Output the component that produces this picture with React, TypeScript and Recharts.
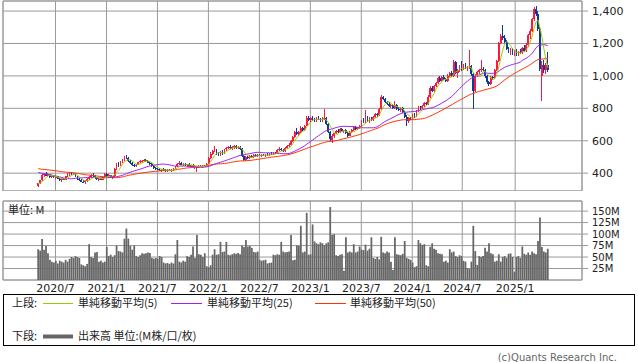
// 週足チャート — ローソク足 + 単純移動平均(5/25/50) + 出来高
import { ComposedChart, Bar, Line, XAxis, YAxis, CartesianGrid, ReferenceArea } from 'recharts';

// 週ごとの四本値（左端 2020/5 〜 右端 2025/4）
const opens = [
  320, 338, 355, 388, 396, 385, 392, 376, 382, 374,
  378, 365, 355, 364, 360, 380, 394, 400, 392, 398,
  378, 364, 356, 348, 345, 352, 362, 375, 390, 380,
  368, 362, 366, 360, 376, 394, 382, 386, 372, 380,
  426, 455, 448, 466, 485, 500, 492, 472, 460, 448,
  445, 452, 466, 474, 478, 482, 475, 464, 455, 444,
  432, 426, 422, 418, 424, 418, 414, 420, 416, 422,
  428, 442, 456, 460, 452, 458, 448, 454, 444, 448,
  440, 430, 438, 446, 440, 446, 442, 458, 494, 520,
  538, 542, 520, 512, 530, 520, 546, 556, 562, 554,
  560, 566, 556, 562, 550, 506, 482, 500, 496, 506,
  500, 512, 508, 514, 510, 512, 508, 516, 512, 520,
  516, 526, 520, 544, 552, 540, 536, 556, 570, 576,
  598, 625, 655, 642, 652, 676, 668, 694, 742, 728,
  738, 730, 722, 740, 732, 724, 738, 742, 705, 656,
  602, 632, 645, 662, 654, 670, 658, 664, 648, 632,
  655, 668, 684, 672, 680, 690, 724, 716, 740, 724,
  738, 728, 746, 764, 756, 794, 872, 856, 838, 826,
  812, 820, 800, 820, 798, 788, 802, 776, 748, 724,
  740, 732, 756, 750, 784, 806, 800, 812, 832, 826,
  872, 925, 908, 938, 955, 984, 968, 995, 978, 970,
  1002, 1018, 1000, 1085, 1018, 1030, 1060, 1040, 1068, 1048,
  1056, 1064, 1010, 905, 1002, 1024, 1034, 1044, 1036, 998,
  960, 952, 992, 984, 1034, 1092, 1200, 1248, 1236, 1212,
  1168, 1150, 1162, 1136, 1152, 1128, 1148, 1142, 1170, 1156,
  1192, 1250, 1280, 1350, 1410, 1384, 1290, 1000, 1070, 1036,
  1068,
];
const highs = [
  342, 360, 395, 402, 405, 398, 396, 388, 390, 385,
  383, 372, 368, 372, 385, 398, 405, 408, 404, 402,
  384, 370, 362, 356, 358, 368, 380, 395, 398, 386,
  375, 370, 372, 380, 398, 400, 392, 390, 385, 432,
  462, 468, 472, 490, 508, 512, 498, 480, 468, 455,
  458, 470, 480, 484, 488, 490, 482, 470, 460, 450,
  440, 434, 430, 428, 430, 426, 424, 428, 426, 432,
  446, 462, 478, 466, 462, 464, 458, 460, 452, 455,
  448, 446, 450, 452, 450, 452, 462, 500, 528, 545,
  570, 548, 530, 535, 540, 550, 562, 570, 572, 566,
  574, 572, 568, 570, 556, 512, 505, 508, 510, 512,
  516, 518, 520, 520, 518, 520, 520, 522, 526, 528,
  530, 532, 548, 560, 558, 552, 560, 576, 584, 604,
  632, 662, 680, 660, 690, 684, 700, 750, 752, 746,
  752, 742, 745, 750, 742, 745, 798, 746, 712, 662,
  640, 650, 668, 672, 676, 678, 668, 670, 654, 660,
  672, 690, 692, 686, 696, 730, 740, 790, 750, 744,
  746, 752, 770, 774, 800, 885, 878, 864, 846, 840,
  828, 826, 846, 826, 806, 810, 808, 782, 756, 746,
  748, 762, 770, 790, 812, 814, 818, 838, 840, 880,
  935, 940, 945, 962, 992, 1000, 1002, 1008, 985, 1010,
  1025, 1028, 1100, 1090, 1040, 1070, 1090, 1075, 1080, 1062,
  1160, 1068, 1016, 1010, 1030, 1040, 1096, 1052, 1042, 1004,
  968, 1000, 1000, 1040, 1100, 1210, 1260, 1312, 1250, 1222,
  1178, 1170, 1172, 1160, 1164, 1156, 1168, 1178, 1190, 1200,
  1260, 1290, 1360, 1428, 1430, 1400, 1300, 1090, 1100, 1080,
  1148,
];
const lows = [
  315, 332, 350, 378, 380, 375, 372, 368, 370, 366,
  362, 350, 348, 356, 355, 375, 385, 388, 386, 375,
  360, 350, 344, 338, 335, 346, 356, 370, 376, 364,
  358, 352, 356, 355, 372, 378, 370, 368, 366, 378,
  420, 440, 442, 460, 478, 488, 468, 455, 442, 438,
  440, 448, 460, 464, 470, 470, 460, 450, 440, 428,
  420, 418, 412, 410, 414, 408, 410, 412, 410, 416,
  424, 438, 448, 448, 446, 444, 440, 440, 436, 436,
  426, 408, 430, 436, 434, 438, 438, 455, 490, 510,
  530, 515, 505, 506, 515, 516, 538, 548, 548, 545,
  552, 550, 548, 545, 500, 476, 478, 490, 490, 494,
  496, 502, 500, 504, 502, 504, 502, 506, 508, 510,
  512, 516, 516, 536, 536, 530, 530, 550, 560, 570,
  592, 620, 636, 630, 646, 660, 662, 690, 720, 718,
  722, 715, 716, 726, 718, 718, 730, 700, 650, 596,
  588, 620, 640, 648, 650, 652, 646, 642, 626, 628,
  650, 662, 666, 664, 672, 686, 708, 712, 718, 712,
  720, 722, 740, 748, 750, 790, 850, 832, 820, 806,
  800, 798, 796, 790, 782, 780, 770, 740, 694, 710,
  726, 726, 740, 746, 778, 792, 794, 806, 818, 822,
  866, 900, 902, 930, 948, 960, 962, 972, 960, 964,
  994, 992, 995, 1010, 990, 1022, 1030, 1034, 1040, 1032,
  1040, 1000, 798, 900, 996, 1010, 1026, 1028, 990, 950,
  940, 946, 976, 980, 1030, 1086, 1195, 1220, 1200, 1160,
  1140, 1130, 1128, 1124, 1120, 1120, 1136, 1136, 1146, 1150,
  1180, 1226, 1270, 1340, 1370, 1280, 1030, 845, 1020, 1010,
  1024,
];
const closes = [
  338, 355, 388, 396, 385, 392, 376, 382, 374, 378,
  365, 355, 364, 360, 380, 394, 400, 392, 398, 378,
  364, 356, 348, 345, 352, 362, 375, 390, 380, 368,
  362, 366, 360, 376, 394, 382, 386, 372, 380, 426,
  455, 448, 466, 485, 500, 492, 472, 460, 448, 445,
  452, 466, 474, 478, 482, 475, 464, 455, 444, 432,
  426, 422, 418, 424, 418, 414, 420, 416, 422, 428,
  442, 456, 460, 452, 458, 448, 454, 444, 448, 440,
  444, 438, 446, 440, 446, 442, 458, 494, 520, 538,
  542, 520, 512, 530, 520, 546, 556, 562, 554, 560,
  566, 556, 562, 550, 506, 482, 500, 496, 506, 500,
  512, 508, 514, 510, 512, 508, 516, 512, 520, 516,
  526, 520, 544, 552, 540, 536, 556, 570, 576, 598,
  625, 655, 642, 652, 676, 668, 694, 742, 728, 738,
  730, 722, 740, 732, 724, 738, 742, 705, 656, 610,
  632, 645, 662, 654, 670, 658, 664, 648, 632, 655,
  668, 684, 672, 680, 690, 724, 716, 740, 724, 738,
  728, 746, 764, 756, 794, 872, 856, 838, 826, 812,
  820, 804, 820, 798, 788, 802, 776, 748, 724, 740,
  732, 756, 750, 784, 806, 800, 812, 832, 826, 872,
  925, 908, 938, 955, 984, 968, 995, 978, 970, 1002,
  1018, 998, 1085, 1018, 1030, 1060, 1040, 1068, 1048, 1056,
  1064, 1010, 905, 1002, 1024, 1034, 1044, 1036, 998, 960,
  952, 992, 984, 1034, 1092, 1200, 1248, 1236, 1212, 1168,
  1150, 1162, 1136, 1152, 1128, 1148, 1142, 1170, 1156, 1192,
  1250, 1280, 1350, 1410, 1384, 1290, 1040, 1070, 1036, 1068,
  1036,
];
// 出来高 (M)
const volumes = [
  67, 64, 89, 66, 74, 58, 44, 40, 38, 42,
  36, 42, 40, 38, 44, 40, 46, 50, 48, 52,
  50, 48, 34, 32, 30, 35, 78, 50, 48, 60,
  61, 40, 42, 38, 40, 72, 52, 55, 50, 54,
  75, 63, 62, 60, 90, 112, 90, 74, 66, 75,
  52, 50, 54, 58, 57, 58, 60, 59, 48, 46,
  48, 46, 52, 50, 38, 36, 37, 35, 38, 36,
  56, 87, 40, 38, 42, 40, 52, 50, 55, 73,
  48, 98, 56, 55, 50, 58, 30, 28, 32, 55,
  67, 55, 56, 83, 61, 62, 83, 55, 54, 56,
  58, 57, 59, 56, 75, 72, 87, 73, 74, 70,
  61, 60, 62, 44, 42, 43, 44, 36, 37, 38,
  55, 54, 56, 55, 83, 62, 60, 61, 62, 98,
  43, 44, 75, 74, 118, 60, 62, 146, 55, 56,
  121, 84, 80, 78, 82, 80, 76, 80, 82, 159,
  98, 100, 54, 52, 55, 56, 20, 93, 60, 62,
  60, 78, 60, 62, 73, 66, 65, 77, 64, 68,
  93, 48, 46, 50, 45, 94, 60, 58, 62, 60,
  40, 22, 93, 56, 55, 54, 57, 85, 48, 46,
  44, 38, 28, 30, 87, 80, 76, 78, 32, 30,
  72, 80, 68, 66, 58, 57, 56, 40, 42, 38,
  67, 60, 62, 52, 50, 54, 52, 42, 40, 26,
  24, 40, 118, 63, 33, 52, 50, 52, 70, 62,
  80, 58, 56, 40, 42, 56, 40, 50, 52, 48,
  57, 58, 50, 18, 50, 52, 48, 73, 57, 55,
  60, 55, 62, 58, 56, 85, 136, 72, 62, 60,
  68,
];
// 表示期間より前の終値（移動平均の立ち上がり用、線の始点から推定）
const priorCloses = [
  462, 458, 455, 450, 446, 448, 452, 456, 450, 444,
  440, 446, 450, 455, 458, 452, 448, 445, 450, 454,
  456, 452, 448, 446, 442, 440, 444, 448, 446, 442,
  438, 440, 444, 442, 438, 436, 440, 438, 432, 425,
  418, 400, 380, 340, 310, 340, 342, 332, 326,
];

const tickLabels = ['2020/7', '2021/1', '2021/7', '2022/1', '2022/7', '2023/1', '2023/7', '2024/1', '2024/7', '2025/1'];
const tickPos = [8.8, 34.8, 60.8, 86.8, 112.8, 138.8, 164.8, 190.8, 216.3, 243.3];
const priceTicks = [400, 600, 800, 1000, 1200, 1400];
const volTicks = [25, 50, 75, 100, 125, 150];

const X_DOMAIN: [number, number] = [-18, 277.4];
const P_DOMAIN: [number, number] = [290, 1462];
const V_DOMAIN: [number, number] = [0, 172];

const UP = '#ff1744';
const DOWN = '#0d3a9e';
const C5 = '#99cc00';
const C25 = '#a020f0';
const C50 = '#ff3300';
const GRID = '#9a9a9a';
const FONT = "'DejaVu Sans', 'Noto Sans CJK JP', sans-serif";
const JP = "'Noto Sans CJK JP', 'DejaVu Sans', sans-serif";

const all = [...priorCloses, ...closes];
const sma = (k: number, n: number) => {
  let s = 0;
  for (let j = k - n + 1; j <= k; j++) s += all[j];
  return s / n;
};

const rows = closes.map((c, i) => {
  const k = i + priorCloses.length;
  return {
    i,
    o: opens[i],
    h: highs[i],
    l: lows[i],
    c,
    range: [lows[i], highs[i]],
    v: volumes[i],
    ma5: sma(k, 5),
    ma25: sma(k, 25),
    ma50: sma(k, 50),
  };
});

function Candle(props: any) {
  const { x, y, width, height, payload } = props;
  if (!payload || !isFinite(y) || !isFinite(height)) return <g />;
  const top = Math.min(y, y + height);
  const span = Math.abs(height);
  const { o, h, l, c } = payload;
  const k = h > l ? span / (h - l) : 0;
  const py = (p: number) => top + (h - p) * k;
  const color = c >= o ? UP : DOWN;
  const bTop = py(Math.max(o, c));
  const bH = Math.max(1, py(Math.min(o, c)) - bTop);
  const cx = x + width / 2;
  return (
    <g shapeRendering="crispEdges">
      <rect x={cx - 0.5} y={top} width={1} height={Math.max(1, span)} fill={color} />
      <rect x={x} y={bTop} width={width} height={bH} fill={color} />
    </g>
  );
}

const tickStyle = { fontSize: 11, fill: '#222', fontFamily: FONT };
const volTickStyle = { fontSize: 10, fill: '#222', fontFamily: FONT };

export default function App() {
  return (
    <div style={{ position: 'absolute', left: 0, top: 0, width: 638, height: 362, background: '#fff' }}>
      <div style={{ position: 'absolute', left: 0, top: 0 }}>
        <ComposedChart width={638} height={191} data={rows} margin={{ top: 1, right: 0, bottom: 0, left: 3 }}>
          <CartesianGrid stroke={GRID} />
          <XAxis dataKey="i" type="number" domain={X_DOMAIN} ticks={tickPos} allowDataOverflow hide />
          <YAxis
            orientation="right"
            domain={P_DOMAIN}
            ticks={priceTicks}
            interval={0}
            allowDataOverflow
            width={56}
            axisLine={false}
            tickLine={{ stroke: GRID }}
            tickSize={6}
            tickMargin={4}
            tick={tickStyle}
            tickFormatter={(v: number) => v.toLocaleString('en-US')}
          />
          <ReferenceArea x1={X_DOMAIN[0]} x2={X_DOMAIN[1]} y1={P_DOMAIN[0]} y2={P_DOMAIN[1]} fill="none" stroke={GRID} ifOverflow="visible" />
          <Bar dataKey="range" barSize={2} shape={<Candle />} isAnimationActive={false} />
          <Line dataKey="ma50" stroke={C50} strokeWidth={1} dot={false} isAnimationActive={false} />
          <Line dataKey="ma25" stroke={C25} strokeWidth={1} dot={false} isAnimationActive={false} />
          <Line dataKey="ma5" stroke={C5} strokeWidth={1} dot={false} isAnimationActive={false} />
        </ComposedChart>
      </div>
      <div style={{ position: 'absolute', left: 0, top: 200 }}>
        <ComposedChart width={638} height={99} data={rows} margin={{ top: 1, right: 0, bottom: 0, left: 3 }}>
          <CartesianGrid stroke={GRID} />
          <XAxis
            dataKey="i"
            type="number"
            domain={X_DOMAIN}
            ticks={tickPos}
            interval={0}
            allowDataOverflow
            height={19}
            axisLine={false}
            tickLine={false}
            tickSize={0}
            tickMargin={4}
            tick={tickStyle}
            tickFormatter={(v: number) => tickLabels[tickPos.indexOf(v)] ?? ''}
          />
          <YAxis
            orientation="right"
            domain={V_DOMAIN}
            ticks={volTicks}
            interval={0}
            allowDataOverflow
            width={56}
            axisLine={false}
            tickLine={{ stroke: GRID }}
            tickSize={6}
            tickMargin={4}
            tick={volTickStyle}
            tickFormatter={(v: number) => `${v}M`}
          />
          <ReferenceArea x1={X_DOMAIN[0]} x2={X_DOMAIN[1]} y1={V_DOMAIN[0]} y2={V_DOMAIN[1]} fill="none" stroke={GRID} ifOverflow="visible" />
          <Bar dataKey="v" barSize={2} fill="#666" isAnimationActive={false} />
        </ComposedChart>
      </div>
      <svg width={638} height={362} style={{ position: 'absolute', left: 0, top: 0, pointerEvents: 'none' }}>
        <text x={8} y={214} fontSize={11} fontFamily={JP} fill="#222">単位: M</text>
        <rect x={3.5} y={294.5} width={631} height={51} fill="none" stroke="#000" />
        <g fontSize={11} fontFamily={JP} fill="#222">
          <text x={12} y={307}>上段:</text>
          <line x1={43} x2={73} y1={303.5} y2={303.5} stroke={C5} />
          <text x={78} y={307}>単純移動平均(5)</text>
          <line x1={171} x2={202} y1={303.5} y2={303.5} stroke={C25} />
          <text x={207} y={307}>単純移動平均(25)</text>
          <line x1={315} x2={346} y1={303.5} y2={303.5} stroke={C50} />
          <text x={350} y={307}>単純移動平均(50)</text>
          <text x={12} y={340}>下段:</text>
          <line x1={43} x2={73} y1={336.5} y2={336.5} stroke="#666" strokeWidth={4} />
          <text x={78} y={340}>出来高 単位:(M株/口/枚)</text>
        </g>
        <text x={617} y={361} textAnchor="end" fontSize={10} fontFamily={FONT} fill="#666">(c)Quants Research Inc.</text>
      </svg>
    </div>
  );
}
